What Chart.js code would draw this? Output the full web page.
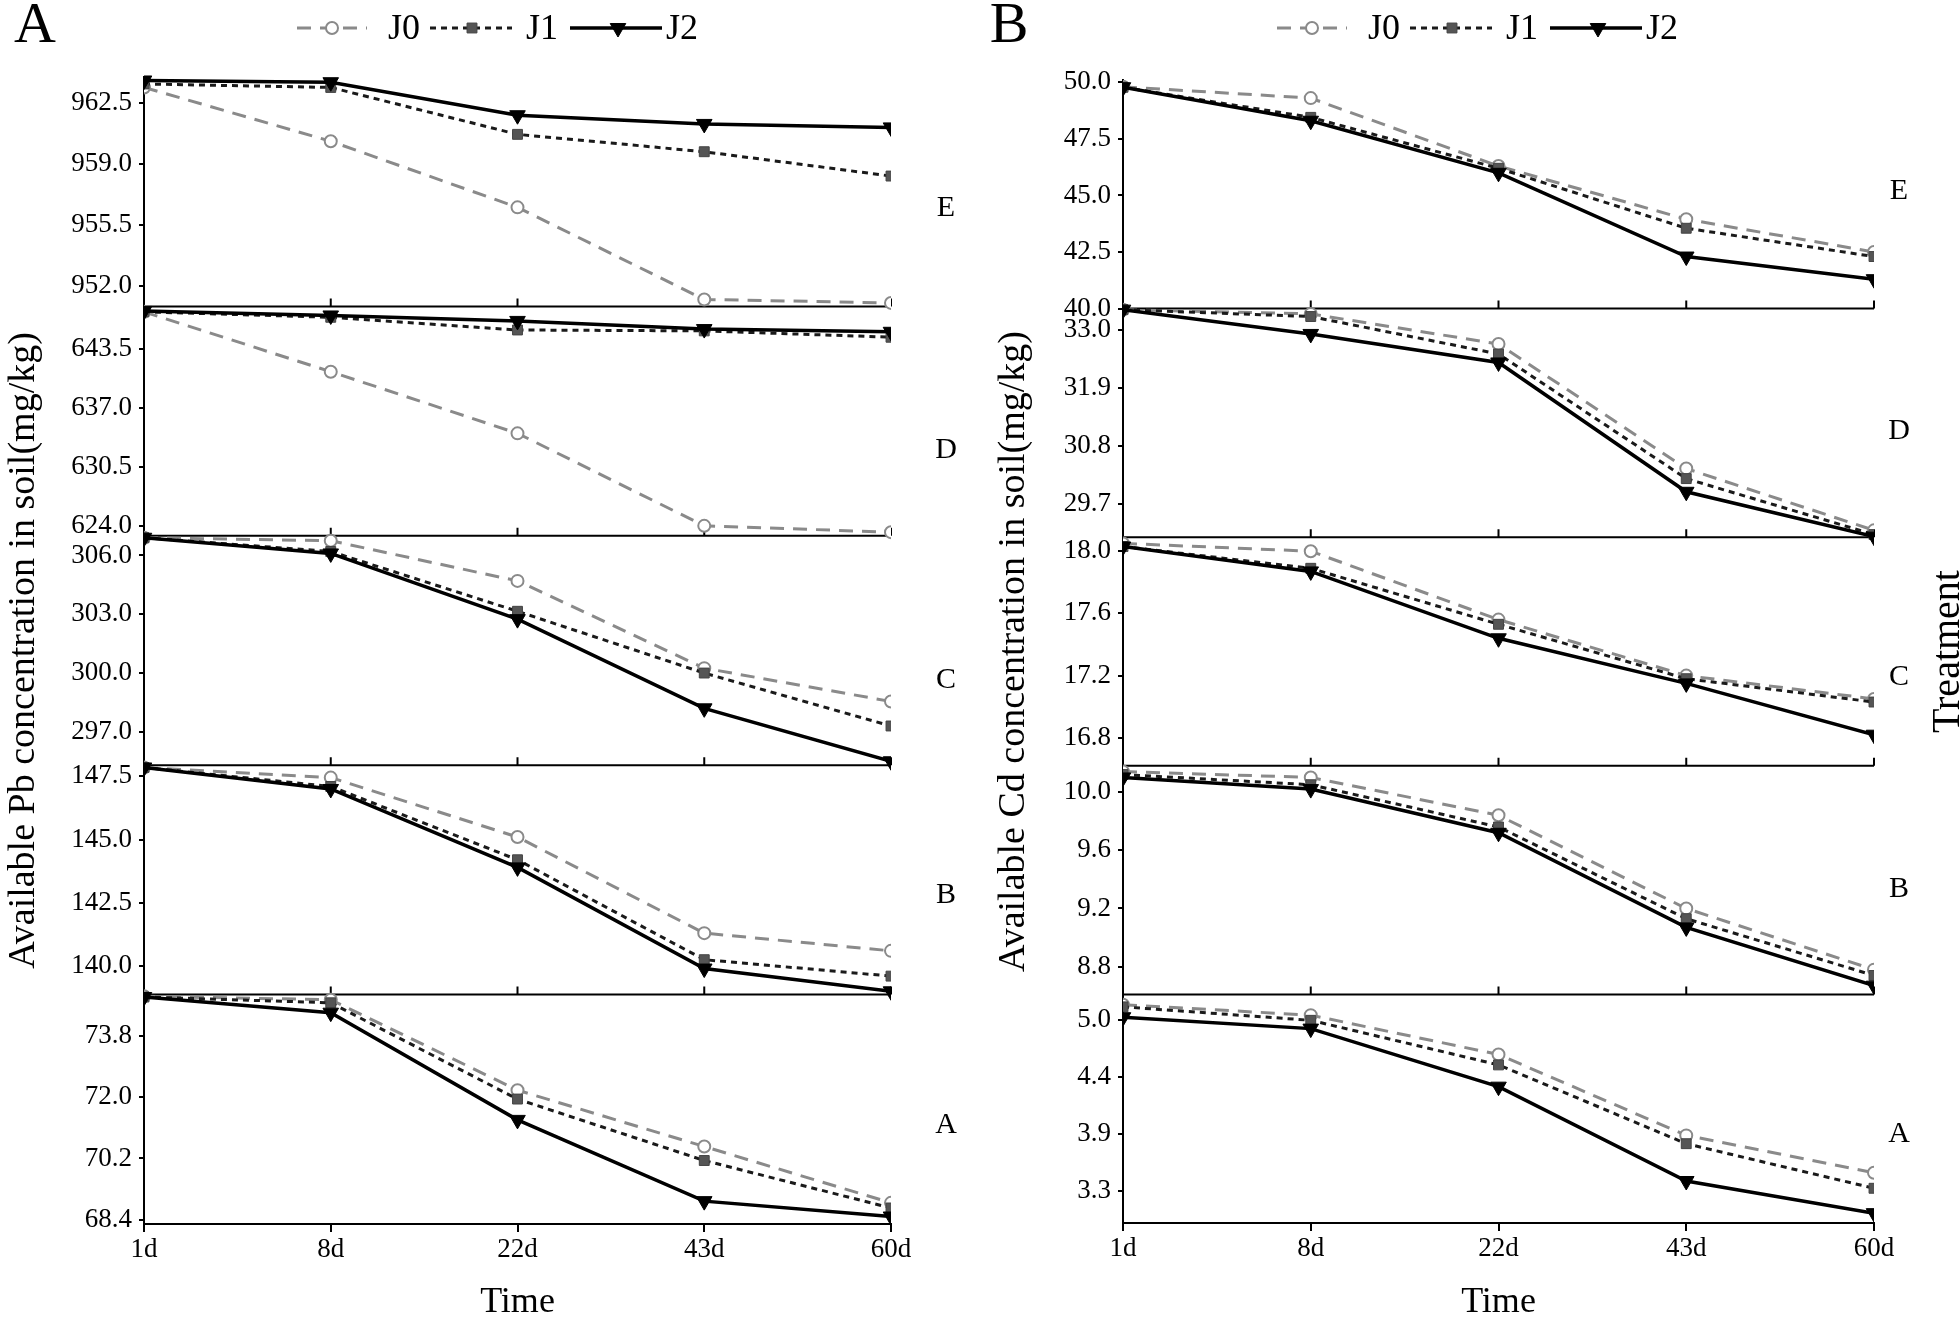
<!DOCTYPE html>
<html>
<head>
<meta charset="utf-8">
<title>Available Pb and Cd in soil</title>
<script src="https://cdn.jsdelivr.net/npm/chart.js@4.4.0/dist/chart.umd.min.js"></script>
<style>
  body { margin: 0; background: #fff; }
  #wrap { position: relative; width: 1959px; height: 1322px; overflow: hidden; }
  #wrap canvas { position: absolute; top: 0; }
</style>
</head>
<body>
<div id="wrap">
  <canvas id="pbChart" width="980" height="1322" style="left:0px"></canvas>
  <canvas id="cdChart" width="979" height="1322" style="left:980px"></canvas>
</div>
<script>
// categories
const days = ['1d', '8d', '22d', '43d', '60d'];
const treatments = ['J0', 'J1', 'J2'];
const soils = ['E', 'D', 'C', 'B', 'A'];   // top to bottom

// Pb (mg/kg), one row per treatment J0, J1, J2
const pbE = [[963.4, 960.3, 956.5, 951.2, 951.0], [963.6, 963.4, 960.7, 959.7, 958.3], [963.8, 963.7, 961.8, 961.3, 961.1]];
const pbD = [[647.6, 641.0, 634.2, 624.0, 623.3], [647.6, 647.0, 645.6, 645.5, 644.8], [647.7, 647.2, 646.6, 645.7, 645.4]];
const pbC = [[306.9, 306.75, 304.7, 300.25, 298.55], [306.9, 306.2, 303.15, 300.0, 297.3], [306.9, 306.1, 302.75, 298.2, 295.5]];
const pbB = [[147.85, 147.45, 145.1, 141.3, 140.6], [147.85, 147.1, 144.2, 140.25, 139.6], [147.85, 147.0, 143.9, 139.9, 139.0]];
const pbA = [[74.95, 74.85, 72.2, 70.55, 68.9], [74.93, 74.76, 71.94, 70.14, 68.75], [74.93, 74.47, 71.33, 68.95, 68.5]];

// Cd (mg/kg)
const cdE = [[49.8, 49.3, 46.3, 43.95, 42.5], [49.78, 48.45, 46.2, 43.55, 42.3], [49.78, 48.3, 46.0, 42.3, 41.3]];
const cdD = [[33.38, 33.3, 32.73, 30.37, 29.2], [33.38, 33.25, 32.54, 30.18, 29.12], [33.38, 32.92, 32.38, 29.93, 29.08]];
const cdC = [[18.05, 18.0, 17.56, 17.2, 17.05], [18.03, 17.89, 17.53, 17.18, 17.03], [18.03, 17.87, 17.44, 17.15, 16.82]];
const cdB = [[10.14, 10.1, 9.84, 9.2, 8.78], [10.12, 10.05, 9.76, 9.13, 8.74], [10.1, 10.02, 9.72, 9.07, 8.67]];
const cdA = [[5.15, 5.05, 4.67, 3.89, 3.53], [5.13, 5.0, 4.57, 3.81, 3.38], [5.03, 4.92, 4.36, 3.45, 3.14]];

// axis ranges (E..A)
const pbMin = [950.8, 622.9, 295.3, 138.87, 68.28];
const pbMax = [964.0, 648.2, 307.0, 147.94, 75.0];
const cdMin = [40.0, 29.07, 16.62, 8.61, 3.045];
const cdMax = [50.1, 33.4, 18.09, 10.18, 5.25];

// tick values and labels (E..A)
const pbTicks = [[952.0, 955.5, 959.0, 962.5], [624.0, 630.5, 637.0, 643.5], [297.0, 300.0, 303.0, 306.0], [140.0, 142.5, 145.0, 147.5], [68.4, 70.2, 72.0, 73.8]];
const pbTickLabels = [['952.0', '955.5', '959.0', '962.5'], ['624.0', '630.5', '637.0', '643.5'], ['297.0', '300.0', '303.0', '306.0'], ['140.0', '142.5', '145.0', '147.5'], ['68.4', '70.2', '72.0', '73.8']];
const cdTicks = [[40.0, 42.5, 45.0, 47.5, 50.0], [29.7, 30.8, 31.9, 33.0], [16.8, 17.2, 17.6, 18.0], [8.8, 9.2, 9.6, 10.0], [3.35, 3.9, 4.45, 5.0]];
const cdTickLabels = [['40.0', '42.5', '45.0', '47.5', '50.0'], ['29.7', '30.8', '31.9', '33.0'], ['16.8', '17.2', '17.6', '18.0'], ['8.8', '9.2', '9.6', '10.0'], ['3.3', '3.9', '4.4', '5.0']];

const serif = "'Liberation Serif', 'Times New Roman', serif";
Chart.defaults.font.family = serif;
Chart.defaults.color = '#000';

// line + marker style of each treatment
const seriesStyle = [
  { borderColor: '#8a8a8a', borderWidth: 3, borderDash: [14, 9], pointStyle: 'circle', pointRadius: 6,
    pointBackgroundColor: '#fff', pointBorderColor: '#8a8a8a', pointBorderWidth: 2 },
  { borderColor: '#1a1a1a', borderWidth: 3, borderDash: [6, 5], pointStyle: 'rect', pointRadius: 7,
    pointBackgroundColor: '#555', pointBorderColor: '#444', pointBorderWidth: 1 },
  { borderColor: '#000', borderWidth: 3.5, borderDash: [], pointStyle: 'triangle', pointRotation: 180, pointRadius: 9,
    pointBackgroundColor: '#000', pointBorderColor: '#000', pointBorderWidth: 1 }
];

// separators between the sub panels + all the extra texts
const framePlugin = {
  id: 'frame',
  beforeDatasetsDraw(chart) {
    const ctx = chart.ctx;
    const area = chart.chartArea;
    const xs = chart.scales.x;
    ctx.save();
    ctx.strokeStyle = '#000';
    ctx.lineWidth = 2;
    for (let i = 0; i < soils.length - 1; i++) {
      const ys = chart.scales['y' + soils[i]];
      ctx.beginPath();
      ctx.moveTo(area.left, ys.bottom);
      ctx.lineTo(area.right, ys.bottom);
      for (let j = 0; j < days.length; j++) {
        const px = xs.getPixelForValue(j);
        ctx.moveTo(px, ys.bottom);
        ctx.lineTo(px, ys.bottom - 8);
      }
      ctx.stroke();
    }
    ctx.restore();
  },
  afterDraw(chart, args, opts) {
    const ctx = chart.ctx;
    const area = chart.chartArea;
    ctx.save();
    ctx.fillStyle = '#000';
    ctx.textAlign = 'center';
    ctx.textBaseline = 'middle';

    // big panel letter
    ctx.font = '58px ' + serif;
    ctx.fillText(opts.letter, opts.letterX, 27);

    // legend
    const lx0 = [297, 430, 570], lx1 = [367, 512, 662], mx = [332, 472, 618], tx = [388, 526, 666];
    const ly = 28;
    for (let i = 0; i < treatments.length; i++) {
      const st = seriesStyle[i];
      ctx.save();
      ctx.strokeStyle = st.borderColor;
      ctx.lineWidth = st.borderWidth;
      ctx.setLineDash(st.borderDash);
      ctx.beginPath();
      ctx.moveTo(lx0[i], ly);
      ctx.lineTo(lx1[i], ly);
      ctx.stroke();
      ctx.setLineDash([]);
      ctx.fillStyle = st.pointBackgroundColor;
      ctx.strokeStyle = st.pointBorderColor;
      ctx.lineWidth = st.pointBorderWidth;
      Chart.helpers.drawPoint(ctx, { pointStyle: st.pointStyle, radius: st.pointRadius, rotation: st.pointRotation || 0, borderWidth: st.pointBorderWidth }, mx[i], ly);
      ctx.restore();
      ctx.font = '36px ' + serif;
      ctx.textAlign = 'left';
      ctx.fillText(treatments[i], tx[i], ly + 2);
    }

    // soil letters on the right of each sub panel
    ctx.textAlign = 'center';
    ctx.font = '30px ' + serif;
    soils.forEach((s, i) => {
      const ys = chart.scales['y' + s];
      ctx.fillText(s, opts.soilX, (ys.top + ys.bottom) / 2 + opts.soilDy[i]);
    });

    // x title
    ctx.font = '36px ' + serif;
    ctx.fillText('Time', (area.left + area.right) / 2, 1303);

    // y title
    ctx.save();
    ctx.translate(opts.titleX, (area.top + area.bottom) / 2);
    ctx.rotate(-Math.PI / 2);
    ctx.font = '38px ' + serif;
    ctx.fillText(opts.title, 0, 0);
    ctx.restore();

    if (opts.side) {
      ctx.save();
      ctx.translate(opts.sideX, (area.top + area.bottom) / 2);
      ctx.rotate(-Math.PI / 2);
      ctx.font = '40px ' + serif;
      ctx.fillText(opts.side, 0, 0);
      ctx.restore();
    }
    ctx.restore();
  }
};

function makeChart(id, panels, mins, maxs, ticks, tickLabels, lay) {
  const scales = {
    x: {
      type: 'category',
      labels: days,
      offset: false,
      grid: { drawOnChartArea: false, color: '#000', lineWidth: 2, tickLength: 8 },
      border: { color: '#000', width: 2 },
      ticks: { font: { family: serif, size: 27 }, padding: 2, maxRotation: 0 },
      afterFit: sc => { sc.height = lay.xHeight; }
    }
  };
  const datasets = [];

  // stacked axes are placed from the bottom up, so A first
  for (let i = soils.length - 1; i >= 0; i--) {
    const s = soils[i];
    scales['y' + s] = {
      type: 'linear',
      position: 'left',
      stack: 'soil',
      stackWeight: 1,
      min: mins[i],
      max: maxs[i],
      afterBuildTicks: sc => { sc.ticks = ticks[i].map(v => ({ value: v })); },
      ticks: { autoSkip: false, padding: 7, font: { family: serif, size: 27 }, callback: (v, k) => tickLabels[i][k] },
      grid: { drawOnChartArea: false, color: '#000', lineWidth: 2, tickLength: 5 },
      border: { color: '#000', width: 2 },
      afterFit: sc => { sc.width = lay.yWidth; }
    };
  }

  soils.forEach((s, i) => {
    treatments.forEach((t, j) => {
      datasets.push(Object.assign({
        label: t + ' ' + s,
        data: panels[i][j],
        yAxisID: 'y' + s,
        order: 3 - j,
        fill: false,
        tension: 0,
        clip: { left: 0, right: 0, top: 10, bottom: 10 }
      }, seriesStyle[j]));
    });
  });

  return new Chart(document.getElementById(id), {
    type: 'line',
    data: { labels: days, datasets: datasets },
    options: {
      responsive: false,
      animation: false,
      events: [],
      layout: { padding: lay.padding },
      scales: scales,
      plugins: {
        legend: { display: false },
        tooltip: { enabled: false },
        frame: lay.text
      }
    },
    plugins: [framePlugin]
  });
}

makeChart('pbChart', [pbE, pbD, pbC, pbB, pbA], pbMin, pbMax, pbTicks, pbTickLabels, {
  xHeight: 98, yWidth: 144,
  padding: { top: 77, left: 0, right: 89, bottom: 0 },
  text: { letter: 'A', letterX: 35, soilX: 946, soilDy: [16, 29, 30, 15, 16], titleX: 24,
          title: 'Available Pb concentration in soil(mg/kg)' }
});

makeChart('cdChart', [cdE, cdD, cdC, cdB, cdA], cdMin, cdMax, cdTicks, cdTickLabels, {
  xHeight: 99, yWidth: 143,
  padding: { top: 80, left: 0, right: 85, bottom: 0 },
  text: { letter: 'B', letterX: 29, soilX: 919, soilDy: [-3, 8, 26, 9, 25], titleX: 34,
          title: 'Available Cd concentration in soil(mg/kg)', side: 'Treatment', sideX: 968 }
});
</script>
</body>
